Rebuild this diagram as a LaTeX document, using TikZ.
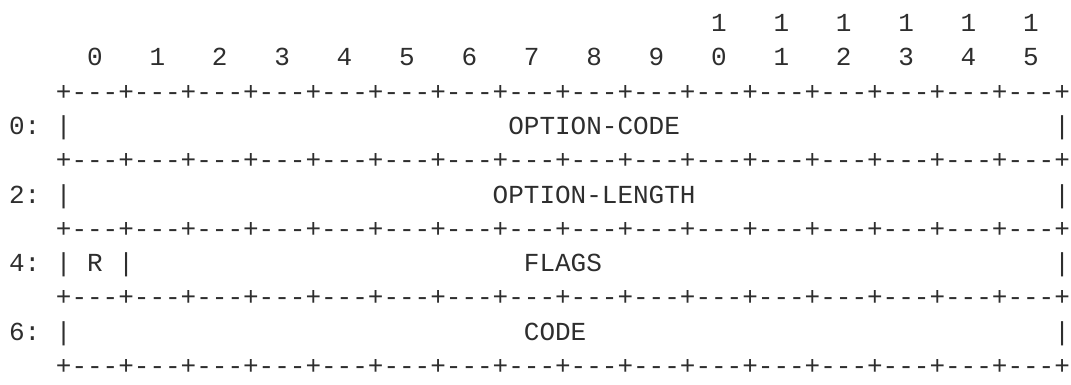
\documentclass[tikz,border=0pt]{standalone}
\usepackage{fontspec}
\setmonofont{Liberation Mono}
\begin{document}
\begin{tikzpicture}[x=1pt,y=-1pt,
  txt/.style={inner sep=0pt, outer sep=0pt, font=\ttfamily\fontsize{26}{26}\selectfont, text=black!82},
  cell/.style={txt, anchor=base},
  str/.style={txt, anchor=base west}]
\fill[white] (0,0) rectangle (1071,385);
\useasboundingbox (0,0) rectangle (1071,385);
\def\Y#1{{31.5+34.3*#1}}
% bit numbers
\foreach \c [count=\k from 0] in {45,49,53,57,61,65}
  \node[cell] (t\k) at ({16.9+15.6*\c},31.5) {1};
\foreach \d [count=\k from 0] in {0,1,2,3,4,5,6,7,8,9,0,1,2,3,4,5}
  \node[cell] (n\k) at ({16.9+15.6*(5+4*\k)},{31.5+34.3}) {\d};
% borders
\foreach \r [count=\k from 0] in {2,4,6,8,10}
  \node[str] (b\k) at ({9.1+15.6*3},{31.5+34.3*\r}) {+---+---+---+---+---+---+---+---+---+---+---+---+---+---+---+---+};
% rows
\foreach \r/\lab/\k in {3/0:/a,5/2:/b,7/4:/c,9/6:/d}{
  \node[str] (l\k) at (9.1,{31.5+34.3*\r}) {\lab};
  \node[cell] (p\k) at ({16.9+15.6*3},{31.5+34.3*\r}) {|};
  \node[cell] (q\k) at ({16.9+15.6*67},{31.5+34.3*\r}) {|};
}
\node[str] (f0) at ({9.1+15.6*32},{31.5+34.3*3}) {OPTION-CODE};
\node[str] (f1) at ({9.1+15.6*31},{31.5+34.3*5}) {OPTION-LENGTH};
\node[cell] (r) at ({16.9+15.6*5},{31.5+34.3*7}) {R};
\node[cell] (rs) at ({16.9+15.6*7},{31.5+34.3*7}) {|};
\node[str] (f2) at ({9.1+15.6*33},{31.5+34.3*7}) {FLAGS};
\node[str] (f3) at ({9.1+15.6*33},{31.5+34.3*9}) {CODE};
\end{tikzpicture}
\end{document}
